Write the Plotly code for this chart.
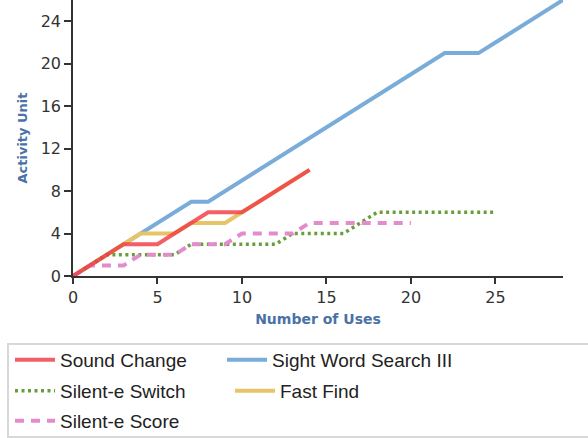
import plotly.graph_objects as go

# ---- data ----
uses_sight = list(range(0, 30))
sight_word = [0, 1, 2, 3, 4, 5, 6, 7, 7, 8, 9, 10, 11, 12, 13, 14, 15, 16, 17, 18,
              19, 20, 21, 21, 21, 22, 23, 24, 25, 26]

uses_sound = list(range(0, 15))
sound_change = [0, 1, 2, 3, 3, 3, 4, 5, 6, 6, 6, 7, 8, 9, 10]

uses_fast = list(range(0, 15))
fast_find = [0, 1, 2, 3, 4, 4, 4, 5, 5, 5, 6, 7, 8, 9, 10]

uses_switch = list(range(0, 26))
silent_e_switch = [0, 1, 2, 2, 2, 2, 2, 3, 3, 3, 3, 3, 3, 4, 4, 4, 4, 5, 6, 6,
                   6, 6, 6, 6, 6, 6]

uses_score = list(range(0, 21))
silent_e_score = [0, 1, 1, 1, 2, 2, 2, 3, 3, 3, 4, 4, 4, 4, 5, 5, 5, 5, 5, 5, 5]

x_ticks = [0, 5, 10, 15, 20, 25]
y_ticks = [0, 4, 8, 12, 16, 20, 24]

RED = "rgba(240,60,66,0.82)"
BLUE = "rgba(122,172,218,1)"
YELLOW = "rgba(232,196,104,1)"
GREEN = "rgba(104,158,58,1)"
PINK = "rgba(226,140,204,1)"

fig = go.Figure()
fig.add_trace(go.Scatter(x=uses_sight, y=sight_word, mode="lines", name="Sight Word Search III",
                         line=dict(color=BLUE, width=4), legend="legend2"))
fig.add_trace(go.Scatter(x=uses_fast, y=fast_find, mode="lines", name="Fast Find",
                         line=dict(color=YELLOW, width=4), legend="legend4"))
fig.add_trace(go.Scatter(x=uses_switch, y=silent_e_switch, mode="lines", name="Silent-e Switch",
                         line=dict(color=GREEN, width=3.5, dash="3px,3.5px"), legend="legend3"))
fig.add_trace(go.Scatter(x=uses_score, y=silent_e_score, mode="lines", name="Silent-e Score",
                         line=dict(color=PINK, width=4, dash="9px,7px"), legend="legend5"))
fig.add_trace(go.Scatter(x=uses_sound, y=sound_change, mode="lines", name="Sound Change",
                         line=dict(color=RED, width=4), legend="legend"))

L, R, T, B = 73, 25, 0, 162
W, H = 588, 438
PW, PH = W - L - R, H - T - B

def px_x(p):
    return (p - L) / PW

def px_y(p):
    return (H - B - p) / PH

legend_font = dict(family="Liberation Sans", size=19, color="#222")
common = dict(orientation="h", xanchor="left", yanchor="middle", font=legend_font,
              bgcolor="rgba(0,0,0,0)", borderwidth=0, itemwidth=40,
              itemclick=False, itemdoubleclick=False)

fig.update_layout(
    width=W, height=H,
    margin=dict(l=L, r=R, t=T, b=B, pad=0, autoexpand=False),
    paper_bgcolor="white", plot_bgcolor="white",
    showlegend=True,
    legend=dict(x=px_x(10), y=px_y(360), **common),
    legend2=dict(x=px_x(222), y=px_y(360), **common),
    legend3=dict(x=px_x(10), y=px_y(391), **common),
    legend4=dict(x=px_x(230), y=px_y(391), **common),
    legend5=dict(x=px_x(10), y=px_y(421), **common),
    xaxis=dict(range=[0, 29], tickvals=x_ticks, showgrid=False, zeroline=False,
               showline=True, linecolor="#333", linewidth=1.5,
               ticks="outside", ticklen=6, tickcolor="#333", tickwidth=1.5,
               tickfont=dict(family="DejaVu Sans", size=16, color="#333"),
               title=dict(text="<b>Number of Uses</b>", standoff=8,
                          font=dict(family="DejaVu Sans", size=14, color="#4a72a6"))),
    yaxis=dict(range=[0, 26], tickvals=y_ticks, showgrid=False, zeroline=False,
               showline=True, linecolor="#333", linewidth=1.5,
               ticks="outside", ticklen=7, tickcolor="#333", tickwidth=1.5,
               tickfont=dict(family="DejaVu Sans", size=16, color="#333"),
               title=dict(text="<b>Activity Unit</b>", standoff=10,
                          font=dict(family="DejaVu Sans", size=13, color="#4a72a6"))),
    shapes=[dict(type="rect", xref="paper", yref="paper",
                 x0=px_x(8), x1=px_x(600), y0=px_y(437), y1=px_y(344),
                 line=dict(color="#d8d8d8", width=2), fillcolor="rgba(0,0,0,0)", layer="below")],
)

fig.write_html("out.html", config={"displayModeBar": False},
               post_script="document.body.style.margin='0px';")
